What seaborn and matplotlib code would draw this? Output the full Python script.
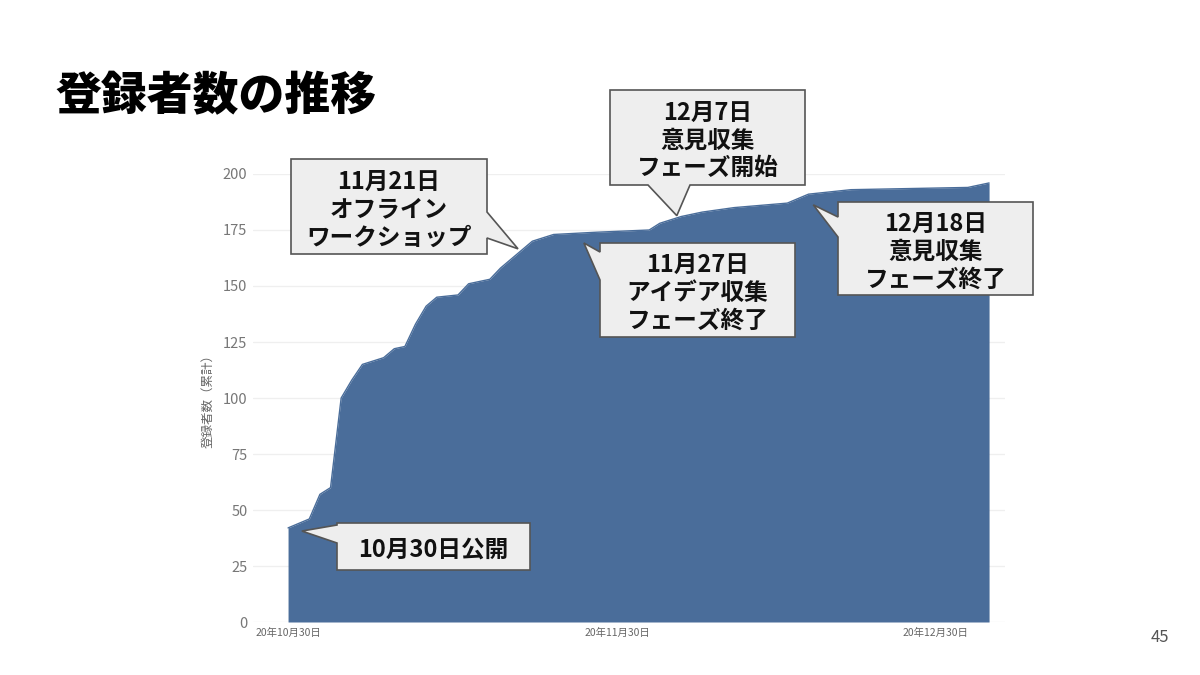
import numpy as np
import pandas as pd
import matplotlib
matplotlib.use("Agg")
import matplotlib.pyplot as plt
import matplotlib.dates as mdates
from matplotlib.patches import Polygon
import seaborn as sns

# cumulative registrations
dates = ["2020-10-30", "2020-11-01", "2020-11-02", "2020-11-03", "2020-11-04",
         "2020-11-05", "2020-11-06", "2020-11-08", "2020-11-09", "2020-11-10",
         "2020-11-11", "2020-11-12", "2020-11-13", "2020-11-15", "2020-11-16",
         "2020-11-18", "2020-11-19", "2020-11-21", "2020-11-22", "2020-11-24",
         "2020-11-28", "2020-12-03", "2020-12-04", "2020-12-06", "2020-12-08",
         "2020-12-11", "2020-12-16", "2020-12-18", "2020-12-22", "2021-01-02",
         "2021-01-04"]
registered = [42, 46, 57, 60, 100, 108, 115, 118, 122, 123,
              133, 141, 145, 146, 151, 153, 158, 166, 170, 173,
              174, 175, 178, 181, 183, 185, 187, 191, 193, 194,
              196]

tick_dates = ["2020-10-30", "2020-11-30", "2020-12-30"]
tick_labels = ["20年10月30日", "20年11月30日", "20年12月30日"]
y_ticks = [0, 25, 50, 75, 100, 125, 150, 175, 200]

notes = ["10月30日公開",
         "11月21日\nオフライン\nワークショップ",
         "11月27日\nアイデア収集\nフェーズ終了",
         "12月7日\n意見収集\nフェーズ開始",
         "12月18日\n意見収集\nフェーズ終了"]
note_dates = ["2020-10-30", "2020-11-21", "2020-11-27", "2020-12-07", "2020-12-18"]

# callout layout (pixels from top-left): tip shift (days, drop), box, pointer edge + base
tip_shift = [(1.3, 4), (-0.35, -2), (-0.15, 4.5), (-1.4, -1), (0.45, 5)]
boxes = [(337, 523, 530, 570), (291, 159, 487, 254), (600, 243, 795, 337),
         (610, 90, 805, 185), (838, 202, 1033, 295)]
edges = ["left", "right", "left", "bottom", "left"]
bases = [(525, 543), (212, 238), (252, 280), (648, 690), (217, 237)]

W, H = 1200, 675
df = pd.DataFrame({"date": pd.to_datetime(dates), "registered": registered})

sns.set_theme(style="white")
plt.rcParams["font.family"] = ["Noto Sans CJK JP", "DejaVu Sans"]

fig = plt.figure(figsize=(12, 6.75), dpi=100)
ax = fig.add_axes([253 / W, 53 / H, 752 / W, 448 / H])

blue = "#4a6d9a"
ax.fill_between(df["date"], 0, df["registered"], color=blue, lw=0, zorder=2)
sns.lineplot(data=df, x="date", y="registered", color=blue, lw=1, ax=ax, zorder=3)

x0 = pd.Timestamp("2020-10-30")
ax.set_xlim(x0 - pd.Timedelta(days=3.3), x0 + pd.Timedelta(days=67.5))
ax.set_ylim(0, 200)
ax.set_yticks(y_ticks)
ax.set_yticklabels([str(v) for v in y_ticks], color="#777777", fontsize=10.5)
ax.set_xticks(pd.to_datetime(tick_dates))
ax.set_xticklabels(tick_labels, color="#666666", fontsize=7.5)
ax.tick_params(axis="both", length=0, pad=4)
ax.yaxis.grid(True, color="#efefef", lw=0.9, zorder=0)
ax.set_axisbelow(True)
for s in ax.spines.values():
    s.set_visible(False)
ax.set_xlabel("")
ax.set_ylabel("登録者数（累計）", color="#666666", fontsize=9, labelpad=6)

xnum = mdates.date2num(df["date"])
for text, d, (shift, drop), (L, T, R, B), edge, (b0, b1) in zip(
        notes, note_dates, tip_shift, boxes, edges, bases):
    tx = mdates.date2num(pd.Timestamp(d)) + shift
    ty = np.interp(tx, xnum, df["registered"]) - drop
    px, py = ax.transData.transform((tx, ty))
    tip = (px, H - py)
    if edge == "left":
        pts = [(L, T), (R, T), (R, B), (L, B), (L, b1), tip, (L, b0)]
    elif edge == "right":
        pts = [(L, T), (R, T), (R, b0), tip, (R, b1), (R, B), (L, B)]
    else:
        pts = [(L, T), (R, T), (R, B), (b1, B), tip, (b0, B), (L, B)]
    pts = [(x / W, 1 - y / H) for x, y in pts]
    fig.add_artist(Polygon(pts, closed=True, fc="#eeeeee", ec="#555555", lw=1.2,
                           transform=fig.transFigure, zorder=5))
    fig.text((L + R) / 2 / W, 1 - ((T + B) / 2 + 3) / H, text, ha="center",
             va="center", fontsize=17, fontweight="bold", color="#111111",
             linespacing=1.2, zorder=6)

fig.text(55 / W, 1 - 97 / H, "登録者数の推移", fontsize=33, fontweight="heavy",
         color="black", va="center", ha="left")
fig.text(1160 / W, 1 - 638 / H, "45", fontsize=12, color="#555555",
         va="center", ha="center")

fig.savefig("out.png", dpi=100)
